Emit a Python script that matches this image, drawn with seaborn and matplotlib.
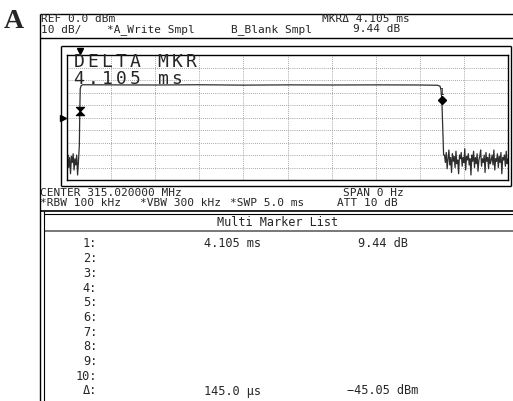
import numpy as np
import matplotlib
matplotlib.use("Agg")
import matplotlib.pyplot as plt
from matplotlib.lines import Line2D
from matplotlib.path import Path
import seaborn as sns

# ---- canvas ---------------------------------------------------------------
W, H = 513, 401
DPI = 100

# ---- instrument settings ----------------------------------------------------
sweep_ms = 5.0
ref_dbm = 0.0
db_per_div = 10
n_div = 10
sample_ms = 0.01

# ---- trace (time in ms, level in dBm) --------------------------------------
noise_left_start_ms = 0.0
noise_left_dbm = [-84, -80, -90, -82, -95, -81, -86, -79, -92, -83, -88, -80, -96, -85]

edge_rise_ms = [0.140, 0.145, 0.150, 0.160, 0.180]
edge_rise_dbm = [-72.0, -45.05, -27.0, -24.5, -23.8]

plateau_ms = [0.5, 1.0, 1.5, 2.0, 2.5, 3.0, 3.5, 4.0, 4.2]
plateau_dbm = [-23.9, -24.0, -23.8, -24.1, -23.9, -24.0, -23.9, -24.0, -24.2]

edge_fall_ms = [4.23, 4.24, 4.25, 4.26, 4.27]
edge_fall_dbm = [-25.0, -28.0, -35.61, -58.0, -80.0]

noise_right_start_ms = 4.28
noise_right_dbm = [-80, -86, -78, -91, -83, -76, -88, -82, -94, -79, -85, -81, -90, -77,
                   -87, -84, -95, -80, -83, -78, -89, -82, -86, -75, -92, -81, -84, -79,
                   -88, -83, -96, -80, -85, -77, -90, -82, -87, -79, -93, -84, -81, -76,
                   -89, -83, -86, -80, -94, -78, -85, -82, -91, -79, -87, -84, -80, -88,
                   -76, -92, -83, -85, -79, -90, -81, -86, -78, -95, -82, -84, -80, -89,
                   -77, -87, -83]

trigger_dbm = -50.0

# ---- markers ----------------------------------------------------------------
ref_mkr_ms = 0.145
ref_mkr_dbm = -45.05
delta_ms = 4.105
delta_db = 9.44

# ---- text -------------------------------------------------------------------
hdr_left = ["REF 0.0 dBm", "10 dB/"]
hdr_traces = ["*A_Write Smpl", "B_Blank Smpl"]
hdr_mkr = ["MKR\u0394 4.105 ms", "9.44 dB"]
ftr_center = "CENTER 315.020000 MHz"
ftr_span = "SPAN 0 Hz"
ftr_bw = ["*RBW 100 kHz", "*VBW 300 kHz", "*SWP 5.0 ms", "ATT 10 dB"]
big_lines = ["DELTA MKR", "4.105 ms"]
list_title = "Multi Marker List"
list_rows = ["1:", "2:", "3:", "4:", "5:", "6:", "7:", "8:", "9:", "10:", "\u0394:"]
list_time = ["4.105 ms", "", "", "", "", "", "", "", "", "", "145.0 \u00b5s"]
list_level = ["9.44 dB", "", "", "", "", "", "", "", "", "", "\u221245.05 dBm"]

# ---- build trace ------------------------------------------------------------
t_left = noise_left_start_ms + sample_ms * np.arange(len(noise_left_dbm))
t_right = noise_right_start_ms + sample_ms * np.arange(len(noise_right_dbm))
t = np.concatenate([t_left, edge_rise_ms, plateau_ms, edge_fall_ms, t_right])
lvl = np.concatenate([noise_left_dbm, edge_rise_dbm, plateau_dbm, edge_fall_dbm, noise_right_dbm])

sns.set_style("white")
plt.rcParams["font.family"] = ["DejaVu Sans Mono", "DejaVu Sans"]
MONO = ["DejaVu Sans Mono", "DejaVu Sans"]

fig = plt.figure(figsize=(W / DPI, H / DPI), dpi=DPI)
fig.patch.set_facecolor("white")


def fx(x):
    return x / W


def fy(y):
    return 1 - y / H


def hline(y, x0, x1, lw=1.0, color="black"):
    fig.add_artist(Line2D([fx(x0), fx(x1)], [fy(y), fy(y)], transform=fig.transFigure,
                          lw=lw, color=color, solid_capstyle="butt"))


def vline(x, y0, y1, lw=1.0, color="black"):
    fig.add_artist(Line2D([fx(x), fx(x)], [fy(y0), fy(y1)], transform=fig.transFigure,
                          lw=lw, color=color, solid_capstyle="butt"))


def txt(x, y, s, size=8.0, ha="left", **kw):
    fig.text(fx(x), fy(y), s, ha=ha, va="center", fontsize=size, family=MONO, **kw)


# ---- grid axes ----------------------------------------------------------------
gx0, gx1, gy0, gy1 = 67, 508, 55, 180
ax = fig.add_axes([fx(gx0), fy(gy1), (gx1 - gx0) / W, (gy1 - gy0) / H])
sns.lineplot(x=t, y=lvl, ax=ax, color="#2e2e2e", lw=0.9, estimator=None, sort=False)
ax.set_xlim(0, sweep_ms)
ax.set_ylim(ref_dbm - n_div * db_per_div, ref_dbm)
ax.set_xticks(np.linspace(0, sweep_ms, n_div + 1))
ax.set_yticks(np.linspace(ref_dbm - n_div * db_per_div, ref_dbm, n_div + 1))
ax.grid(True, color="#8a8a8a", lw=0.6, ls=(0, (1, 1.5)))
ax.tick_params(length=0, labelbottom=False, labelleft=False)
ax.set_xlabel("")
ax.set_ylabel("")
for sp in ax.spines.values():
    sp.set_color("black")
    sp.set_linewidth(1.0)

# reference marker (hourglass) and delta marker (diamond)
hourglass = Path([(-1, 1), (1, 1), (0, 0), (-1, -1), (1, -1), (0, 0), (-1, 1)])
ax.plot([ref_mkr_ms], [ref_mkr_dbm], marker=hourglass, ms=6, color="black", mew=0.8)
d_ms = ref_mkr_ms + delta_ms
d_dbm = ref_mkr_dbm + delta_db
ax.plot([d_ms], [d_dbm], marker="D", ms=4, color="black")
ax.text(d_ms, d_dbm + 5.5, "1", ha="center", va="center", fontsize=5.5, family=MONO)
# marker position flag above the grid and trigger flag on the left
ax.plot([ref_mkr_ms], [ref_dbm + 3.2], marker="v", ms=4.5, color="black", clip_on=False)
ax.plot([-0.045], [trigger_dbm], marker=">", ms=4, color="black", clip_on=False)

# ---- frame ------------------------------------------------------------------
hline(14, 40, 513)
vline(40, 14, 401)
hline(38, 40, 513)
# plot box
hline(46, 61, 511)
hline(186, 61, 511)
vline(61, 46, 186)
vline(511, 46, 186)
# marker list box
hline(211, 40, 513, lw=1.2)
hline(213.5, 43.5, 513, lw=0.8)
hline(231, 43.5, 513, lw=1.4, color="#777777")
vline(43.5, 211, 401, lw=0.8)

# ---- header ----------------------------------------------------------------
txt(41, 19.5, hdr_left[0])
txt(41, 29.5, hdr_left[1])
txt(107, 29.5, hdr_traces[0])
txt(231, 29.5, hdr_traces[1])
txt(322, 19.5, hdr_mkr[0])
txt(353, 29.5, hdr_mkr[1])

# ---- large delta readout -----------------------------------------------------
for row, (s, yc) in enumerate(zip(big_lines, [62, 79.5])):
    for i, ch in enumerate(s):
        txt(79 + 14 * i, yc, ch, size=13, ha="center")

# ---- footer ------------------------------------------------------------------
txt(40, 192.5, ftr_center)
txt(343, 192.5, ftr_span)
for x, s in zip([40, 140, 230, 337], ftr_bw):
    txt(x, 202.5, s)

# ---- marker list ---------------------------------------------------------------
txt(278, 222, list_title, size=8.6, ha="center")
for i, (r, tm, lv) in enumerate(zip(list_rows, list_time, list_level)):
    y = 244 + 14.7 * i
    txt(97, y, r, size=8.6, ha="right")
    if tm:
        txt(233, y, tm, size=8.6, ha="center")
    if lv:
        txt(383, y, lv, size=8.6, ha="center")

# ---- panel letter --------------------------------------------------------------
fig.text(fx(4), fy(22), "A", ha="left", va="center", fontsize=20, fontweight="bold",
         family=["Liberation Serif", "DejaVu Serif"])

fig.savefig("out.png", dpi=DPI)
